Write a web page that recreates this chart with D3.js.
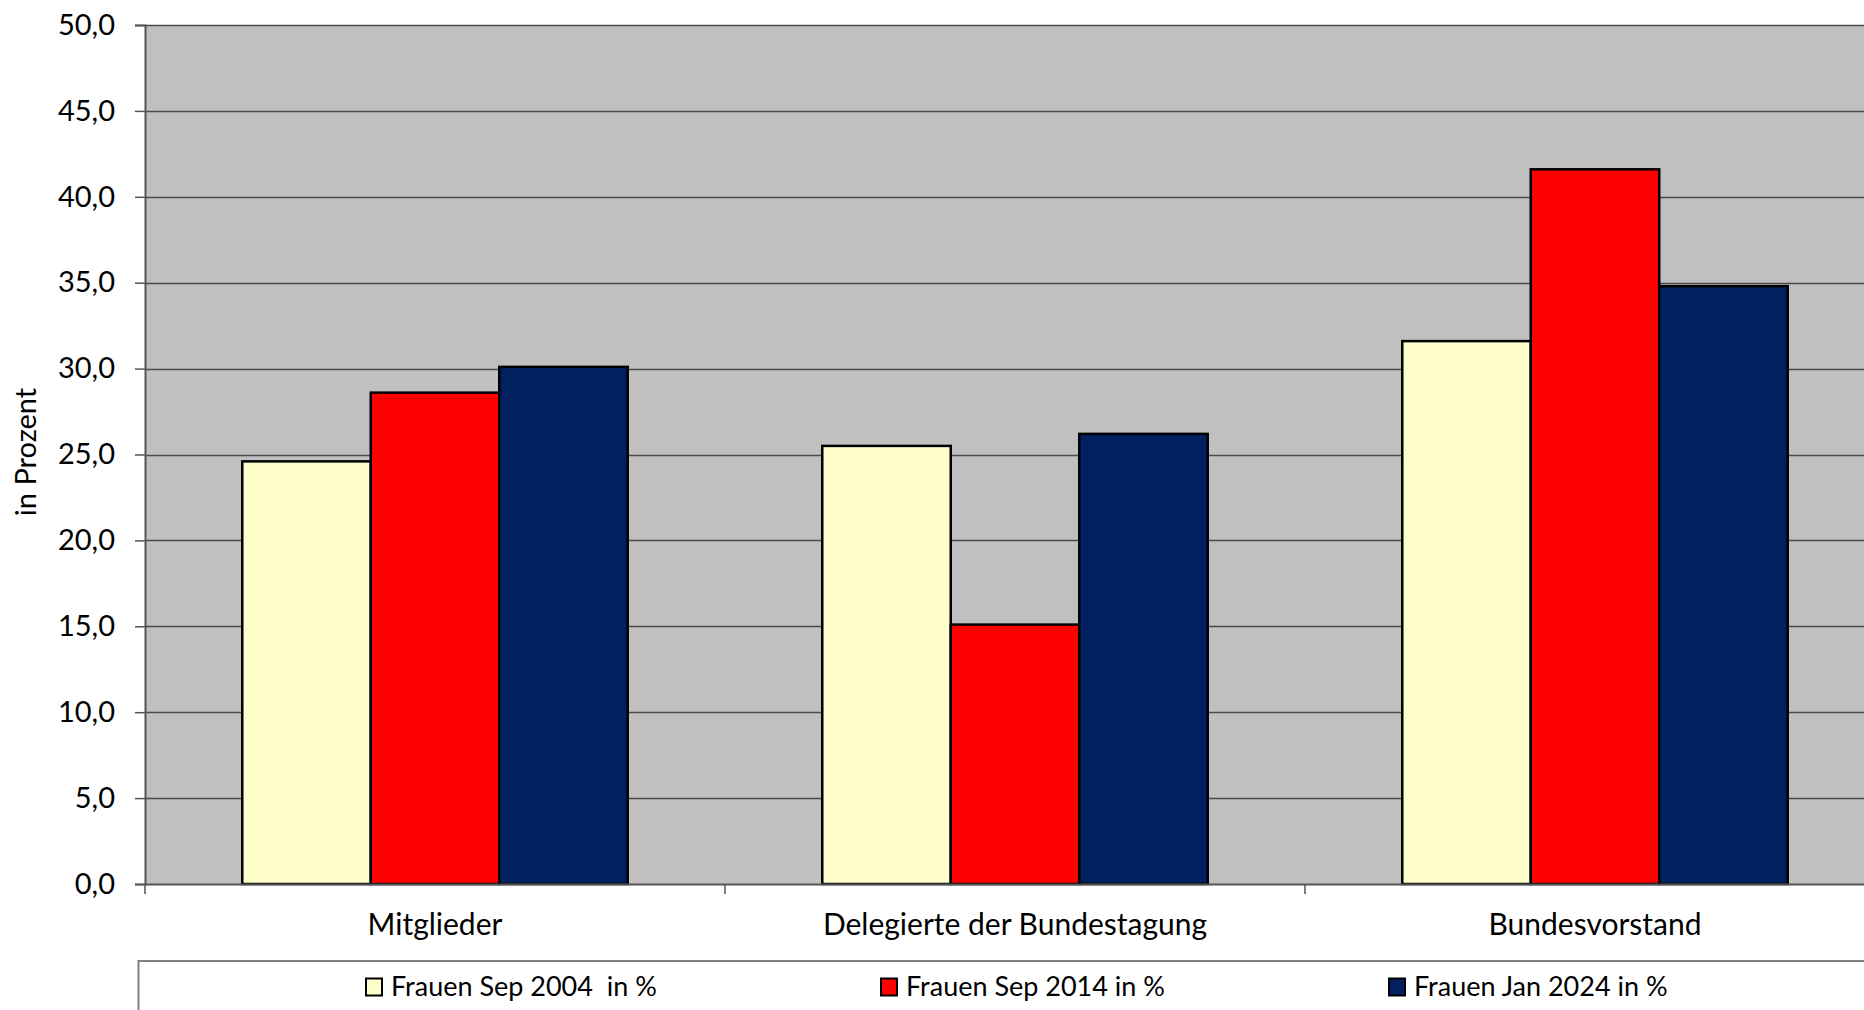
<!DOCTYPE html>
<html>
<head>
<meta charset="utf-8">
<script src="https://cdn.jsdelivr.net/npm/d3@7"></script>
<style>
  html, body { margin: 0; padding: 0; background: #fff; overflow: hidden; }
  svg { display: block; font-family: Lato, "Open Sans", sans-serif; }
  .keep-space { white-space: pre; }
</style>
</head>
<body>
<svg id="chart" width="1864" height="1010"></svg>
<script>
// Frauenanteil nach Gremium
const categories = ["Mitglieder", "Delegierte der Bundestagung", "Bundesvorstand"];
const seriesNames = ["Frauen Sep 2004  in %", "Frauen Sep 2014 in %", "Frauen Jan 2024 in %"];
const sep2004 = [24.6, 25.5, 31.6];
const sep2014 = [28.6, 15.1, 41.6];
const jan2024 = [30.1, 26.2, 34.8];
const seriesColors = ["#ffffcc", "#ff0000", "#00205f"];
const yTicks = [0, 5, 10, 15, 20, 25, 30, 35, 40, 45, 50];

const seriesValues = [sep2004, sep2014, jan2024];

const svg = d3.select("#chart");
const plot = { left: 145, top: 25, right: 1885, bottom: 884 };

const x0 = d3.scaleBand().domain(categories).range([plot.left, plot.right]).padding(0);
const groupPad = x0.bandwidth() * 0.1677;
const x1 = d3.scaleBand().domain(d3.range(seriesNames.length))
  .range([groupPad, x0.bandwidth() - groupPad]).padding(0);
const y = d3.scaleLinear().domain([0, 50]).range([plot.bottom, plot.top]);

const fmt = v => d3.format(".1f")(v).replace(".", ",");

// plot area background
svg.append("rect")
  .attr("x", plot.left).attr("y", plot.top)
  .attr("width", plot.right - plot.left).attr("height", plot.bottom - plot.top)
  .attr("fill", "#c0c0c0");

// horizontal gridlines
svg.append("g").selectAll("line").data(yTicks.filter(t => t > 0)).join("line")
  .attr("x1", plot.left).attr("x2", plot.right)
  .attr("y1", d => Math.round(y(d)) + 0.5).attr("y2", d => Math.round(y(d)) + 0.5)
  .attr("stroke", "#4a4a4a").attr("stroke-width", 1.5);

// y axis
const yAxis = svg.append("g")
  .attr("transform", `translate(${plot.left},0)`)
  .call(d3.axisLeft(y).tickValues(yTicks).tickFormat(fmt).tickSize(10).tickPadding(20));
yAxis.select(".domain").attr("stroke", "#555").attr("stroke-width", 2);
yAxis.selectAll(".tick line").attr("stroke", "#555").attr("stroke-width", 1.5);
yAxis.selectAll(".tick text").attr("fill", "#000").attr("font-size", 29)
  .attr("font-family", "Lato, sans-serif");

// bars
const groups = svg.append("g").selectAll("g").data(categories).join("g")
  .attr("transform", d => `translate(${x0(d)},0)`);
groups.selectAll("rect")
  .data((c, ci) => seriesValues.map((vals, si) => ({ si, v: vals[ci] })))
  .join("rect")
  .attr("x", d => x1(d.si))
  .attr("y", d => y(d.v))
  .attr("width", x1.bandwidth())
  .attr("height", d => y(0) - y(d.v))
  .attr("fill", d => seriesColors[d.si])
  .attr("stroke", "#000").attr("stroke-width", 2.5);

// x axis
const xAxis = svg.append("g")
  .attr("transform", `translate(0,${plot.bottom})`)
  .call(d3.axisBottom(x0).tickSize(0).tickPadding(30));
xAxis.select(".domain").attr("stroke", "#555").attr("stroke-width", 2);
xAxis.selectAll(".tick text").attr("fill", "#000").attr("font-size", 30)
  .attr("font-family", "Lato, sans-serif");
// category separators
svg.append("g").selectAll("line")
  .data(categories.map(c => x0(c)))
  .join("line")
  .attr("x1", d => d).attr("x2", d => d)
  .attr("y1", plot.bottom).attr("y2", plot.bottom + 10)
  .attr("stroke", "#555").attr("stroke-width", 1.5);

// y axis title
svg.append("text")
  .attr("transform", "translate(36,452) rotate(-90)")
  .attr("text-anchor", "middle")
  .attr("font-size", 29)
  .attr("fill", "#000")
  .text("in Prozent");

// legend
const legend = svg.append("g");
legend.append("rect")
  .attr("x", 138.5).attr("y", 961).attr("width", 1800).attr("height", 100)
  .attr("fill", "#fff").attr("stroke", "#808080").attr("stroke-width", 2);
const legendX = [366, 881, 1389];
const items = legend.selectAll("g.item").data(seriesNames).join("g")
  .attr("class", "item")
  .attr("transform", (d, i) => `translate(${legendX[i]},987)`);
items.append("rect")
  .attr("x", 0).attr("y", -8.5).attr("width", 16).attr("height", 17)
  .attr("fill", (d, i) => seriesColors[i]).attr("stroke", "#000").attr("stroke-width", 2);
items.append("text")
  .attr("class", "keep-space")
  .attr("x", 25).attr("y", 0).attr("dy", "0.35em")
  .attr("font-size", 27).attr("fill", "#000")
  .text(d => d);
</script>
</body>
</html>
